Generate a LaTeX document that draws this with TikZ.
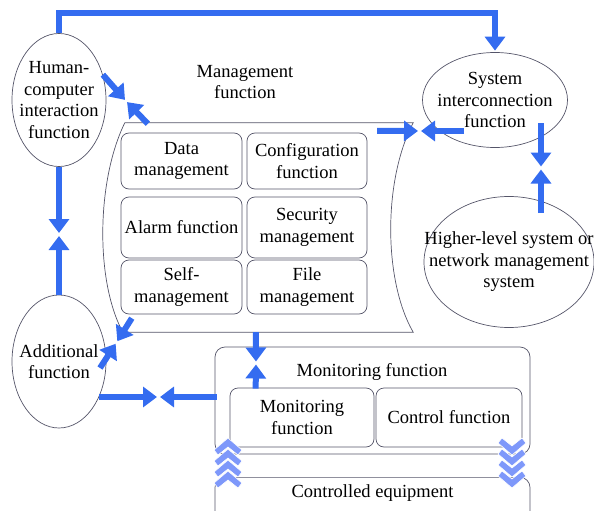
\documentclass[tikz,border=0pt]{standalone}
\usepackage{fontspec}
\setmainfont{Liberation Serif}
\usepackage{tikz}
\usetikzlibrary{
    arrows.meta,
    shapes.geometric,
    calc,
    positioning
}
\definecolor{flowblue}{RGB}{52,108,240}
\definecolor{chevblue}{RGB}{126,152,250}
\definecolor{edgegray}{RGB}{85,85,105}

\begin{document}
\begin{tikzpicture}[x=1pt, y=-1pt,
    font=\fontsize{18.5}{21.5}\selectfont,
    oval/.style={draw=edgegray, ellipse, inner sep=0pt, line width=0.7pt},
    fnbox/.style={draw=edgegray, rounded corners=8pt, align=center, inner sep=2pt, line width=0.7pt},
    flow/.style={draw=flowblue, line width=6pt, shorten >=1.5pt, -{Triangle[width=20pt,length=14pt]}},
    chev/.style={fill=chevblue, draw=white, line width=0.6pt}]
                        \useasboundingbox (0,0) rectangle (594,511);

                        \node[oval, minimum width=94pt, minimum height=133pt,
                            label={[align=center]center:Human-\\computer\\interaction\\function}] (hci) at (59,100) {};
                        \node[oval, minimum width=145pt, minimum height=95pt,
                            label={[align=center]center:System\\interconnection\\function}] (sysint) at (495,100) {};
                        \node[oval, minimum width=170pt, minimum height=131pt,
                            label={[align=center]center:Higher-level system or\\network management\\system}] (higher) at (509,262) {};
                        \node[oval, minimum width=94pt, minimum height=133pt,
                            label={[align=center]center:Additional\\function}] (addfn) at (59,361.5) {};

                        % management function
                        \node[minimum width=290pt, minimum height=209pt] (mgmt) at (268,227.5) {};
                        \draw[edgegray, line width=0.7pt]
                        ($(mgmt.north west)+(2,0)$) -- (mgmt.north east)
                        .. controls ($(mgmt.north east)+(-30,57)$) and ($(mgmt.south east)+(-30,-52)$) .. (mgmt.south east)
                        -- (mgmt.south west)
                        .. controls ($(mgmt.south west)+(-28,-52)$) and ($(mgmt.north west)+(-26,57)$) .. cycle;
                        \node[align=center] (mgmttitle) at (245,82) {Management\\function};

                        \node[fnbox, minimum width=121pt, minimum height=56pt] (data) at (181.5,161) {Data\\management};
                        \node[fnbox, minimum width=120pt, minimum height=56pt] (config) at (307,161) {Configuration\\function};
                        \node[fnbox, minimum width=121pt, minimum height=61pt] (alarm) at (181.5,227.5) {Alarm function};
                        \node[fnbox, minimum width=120pt, minimum height=61pt] (security) at (307,227.5) {Security\\management};
                        \node[fnbox, minimum width=121pt, minimum height=54pt] (selfmgmt) at (181.5,287) {Self-\\management};
                        \node[fnbox, minimum width=120pt, minimum height=54pt] (filemgmt) at (307,287) {File\\management};

                        % monitoring and equipment
                        \node[fnbox, rounded corners=10pt, minimum width=315pt, minimum height=107pt] (monbox) at (372.5,400.5) {};
                        \node (montitle) at (372,372) {Monitoring function};
                        \node[fnbox, minimum width=144pt, minimum height=59pt] (monfn) at (302,417.5) {Monitoring\\function};
                        \node[fnbox, minimum width=146pt, minimum height=59pt] (ctrlfn) at (449,417.5) {Control function};
                        \node[fnbox, rounded corners=10pt, minimum width=315pt, minimum height=50pt, anchor=north] (equip) at (372.5,477) {};
                        \node (equiptext) at (372.5,493) {Controlled equipment};

                        % meeting points of the arrow pairs
                        \coordinate (topleft) at (59,13);
                        \coordinate (hcimeet) at (126,101);
                        \coordinate (sysmeet) at (419.5,131);
                        \coordinate (highmeet) at (541,168);
                        \coordinate (leftmeet) at (59,234.5);
                        \coordinate (addmeet) at (116.5,342.5);
                        \coordinate (monmeet) at (158.5,397);
                        \coordinate (midmeet) at (256,363);

                        \draw[flow] (hci.north) -- (topleft) -| (sysint.north);
                        \draw[flow] (hci.30) -- (hcimeet);
                        \draw[flow] ($(mgmt.north west)+(25,1)$) -- (hcimeet);
                        \draw[flow] ($(sysint.center)+(-31,31)$) -- (sysmeet);
                        \draw[flow] ($(mgmt.north east)+(-36,8)$) -- (sysmeet);
                        \draw[flow] ($(sysint.center)+(46,23)$) -- (highmeet);
                        \draw[flow] ($(higher.center)+(32,-49)$) -- (highmeet);
                        \draw[flow] (hci.south) -- (leftmeet);
                        \draw[flow] (addfn.north) -- (leftmeet);
                        \draw[flow] ($(mgmt.south west)+(9,-14)$) -- (addmeet);
                        \draw[flow] ($(addfn.center)+(41,6.5)$) -- (addmeet);
                        \draw[flow] ($(addfn.center)+(40,35.5)$) -- (monmeet);
                        \draw[flow] ($(monbox.west)+(2,-3.5)$) -- (monmeet);
                        \draw[flow] ($(mgmt.south west)+(133,0)$) -- (midmeet);
                        \draw[flow] ($(monfn.north west)+(26,1)$) -- (midmeet);

                        % chevrons up (left) and down (right)
                        \filldraw[chev] (228,438) -- ++(14,12) -- ++(-4,5) -- ++(-10,-8) -- ++(-10,8) -- ++(-4,-5) -- cycle;
                        \filldraw[chev] (228,449) -- ++(14,12) -- ++(-4,5) -- ++(-10,-8) -- ++(-10,8) -- ++(-4,-5) -- cycle;
                        \filldraw[chev] (228,460) -- ++(14,12) -- ++(-4,5) -- ++(-10,-8) -- ++(-10,8) -- ++(-4,-5) -- cycle;
                        \filldraw[chev] (228,471) -- ++(14,12) -- ++(-4,5) -- ++(-10,-8) -- ++(-10,8) -- ++(-4,-5) -- cycle;
                        \filldraw[chev] (502,438) -- ++(10,8) -- ++(10,-8) -- ++(4,5) -- ++(-14,12) -- ++(-14,-12) -- cycle;
                        \filldraw[chev] (502,449) -- ++(10,8) -- ++(10,-8) -- ++(4,5) -- ++(-14,12) -- ++(-14,-12) -- cycle;
                        \filldraw[chev] (502,460) -- ++(10,8) -- ++(10,-8) -- ++(4,5) -- ++(-14,12) -- ++(-14,-12) -- cycle;
                        \filldraw[chev] (502,471) -- ++(10,8) -- ++(10,-8) -- ++(4,5) -- ++(-14,12) -- ++(-14,-12) -- cycle;
                    \end{tikzpicture}
\end{document}
